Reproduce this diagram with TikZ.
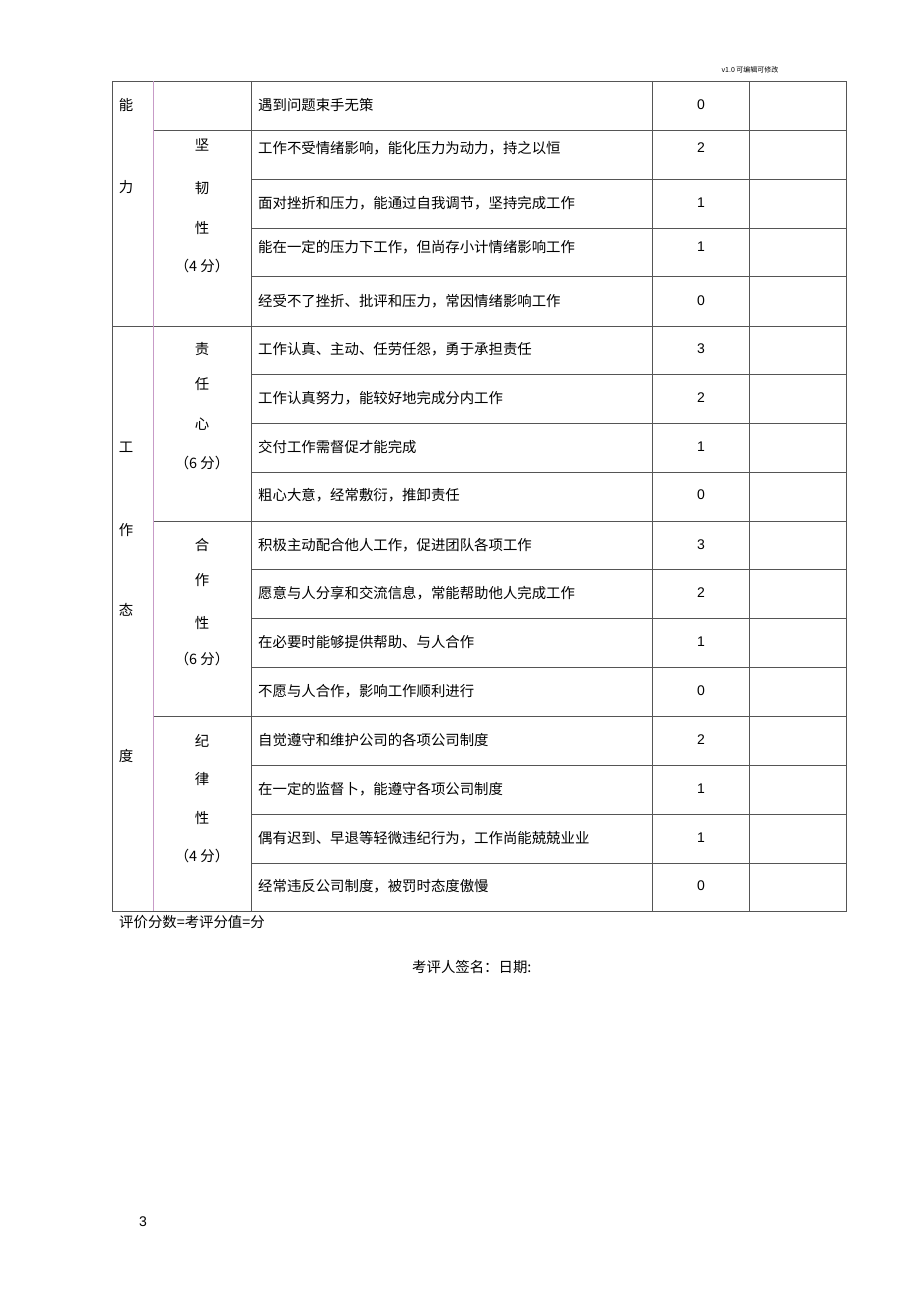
\documentclass[tikz,border=0pt]{standalone}
\usepackage{fontspec}
\setmainfont{Liberation Sans}
\newfontfamily\cjk{Noto Sans CJK SC}
\definecolor{gridc}{HTML}{555555}
\definecolor{pinkc}{HTML}{C79BC7}
\begin{document}
\begin{tikzpicture}[x=1pt,y=-1pt,
  gl/.style={draw=gridc,line width=0.9pt},
  pl/.style={draw=pinkc,line width=0.9pt},
  cell/.style={anchor=west,inner sep=0pt,font=\cjk\fontsize{14.4}{14.4}\selectfont},
  num/.style={anchor=center,inner sep=0pt,font=\fontsize{14}{14}\selectfont},
  vchar/.style={anchor=center,inner sep=0pt,font=\cjk\fontsize{14.4}{14.4}\selectfont},
  small/.style={anchor=center,inner sep=0pt,font=\cjk\fontsize{7}{7}\selectfont},
  plain/.style={anchor=west,inner sep=0pt,font=\cjk\fontsize{14.4}{14.4}\selectfont}]
\useasboundingbox[fill=white] (0,0) rectangle (920,1303);
% header
\node[small] (hdr) at (750,70) {v1.0 可编辑可修改};
% horizontal lines in text/number columns
\foreach \y in {130,179,228,276,326,374,423,472,521,569,618,667,716,765,814,863}
  \draw[gl] (251,\y) -- (846,\y);
% group lines across column 2
\foreach \y in {130,521,716}
  \draw[gl] (153,\y) -- (251,\y);
\draw[gl] (112,326) -- (251,326);
% outer frame
\draw[gl] (112,81) rectangle (846,911);
% vertical lines
\draw[pl] (153,81) -- (153,911);
\draw[gl] (251,81) -- (251,911);
\draw[gl] (652,81) -- (652,911);
\draw[gl] (749,81) -- (749,911);
% rows
\foreach \y/\t/\n [count=\i] in {
 105/遇到问题束手无策/0,
 148/工作不受情绪影响，能化压力为动力，持之以恒/2,
 203/面对挫折和压力，能通过自我调节，坚持完成工作/1,
 247/能在一定的压力下工作，但尚存小计情绪影响工作/1,
 301/经受不了挫折、批评和压力，常因情绪影响工作/0,
 349/工作认真、主动、任劳任怨，勇于承担责任/3,
 398/工作认真努力，能较好地完成分内工作/2,
 447/交付工作需督促才能完成/1,
 495/粗心大意，经常敷衍，推卸责任/0,
 545/积极主动配合他人工作，促进团队各项工作/3,
 593/愿意与人分享和交流信息，常能帮助他人完成工作/2,
 642/在必要时能够提供帮助、与人合作/1,
 691/不愿与人合作，影响工作顺利进行/0,
 740/自觉遵守和维护公司的各项公司制度/2,
 789/在一定的监督卜，能遵守各项公司制度/1,
 838/偶有迟到、早退等轻微违纪行为，工作尚能兢兢业业/1,
 886/经常违反公司制度，被罚时态度傲慢/0}
{
  \node[cell] (t\i) at (258,\y) {\t};
  \node[num] (n\i) at (701,\y) {\n};
}
% column 1
\node[vchar] (c1a) at (126,105) {能};
\node[vchar] (c1b) at (126,187) {力};
\node[vchar] (c1c) at (126,447) {工};
\node[vchar] (c1d) at (126,530) {作};
\node[vchar] (c1e) at (126,610) {态};
\node[vchar] (c1f) at (126,756) {度};
% column 2
\node[vchar] (g1a) at (202,145) {坚};
\node[vchar] (g1b) at (202,188) {韧};
\node[vchar] (g1c) at (202,228) {性};
\node[vchar] (g1d) at (202,266) {（4 分）};
\node[vchar] (g2a) at (202,349) {责};
\node[vchar] (g2b) at (202,384) {任};
\node[vchar] (g2c) at (202,424) {心};
\node[vchar] (g2d) at (202,463) {（6 分）};
\node[vchar] (g3a) at (202,545) {合};
\node[vchar] (g3b) at (202,580) {作};
\node[vchar] (g3c) at (202,623) {性};
\node[vchar] (g3d) at (202,659) {（6 分）};
\node[vchar] (g4a) at (202,741) {纪};
\node[vchar] (g4b) at (202,779) {律};
\node[vchar] (g4c) at (202,818) {性};
\node[vchar] (g4d) at (202,856) {（4 分）};
% footer
\node[plain] (f1) at (119,922) {评价分数=考评分值=分};
\node[plain] (f2) at (412,967) {考评人签名：日期:};
\node[num] (pg) at (143,1222) {3};
\end{tikzpicture}
\end{document}
